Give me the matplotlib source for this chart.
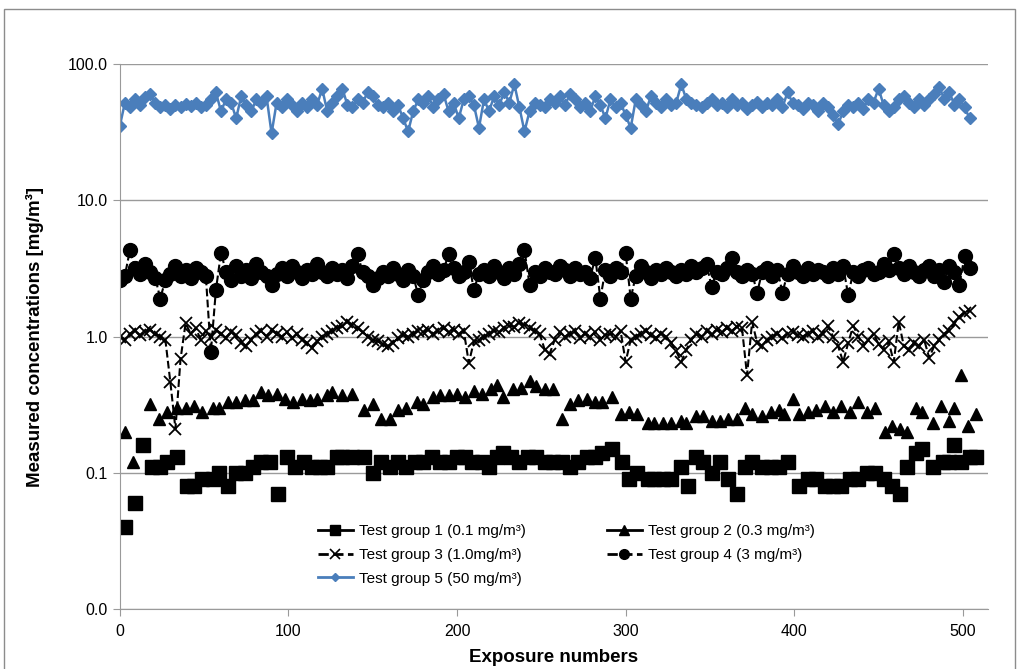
import numpy as np
import matplotlib.pyplot as plt
from matplotlib.lines import Line2D
from matplotlib.patches import Rectangle

plt.rcParams['font.family'] = ['Liberation Sans', 'DejaVu Sans']

# Test group 1 (0.1 mg/m3) - squares
g1_x = [3, 9, 14, 19, 24, 28, 34, 40, 44, 49, 55, 59, 64, 69, 74, 79, 84, 89, 94, 99,
        104, 109, 114, 119, 123, 129, 132, 138, 145, 150, 155, 160, 165, 170, 175, 180,
        185, 190, 195, 200, 205, 209, 215, 219, 224, 227, 232, 237, 242, 247, 252, 257,
        262, 267, 272, 277, 282, 286, 292, 298, 302, 307, 313, 317, 322, 327, 333, 337,
        342, 346, 351, 356, 361, 366, 371, 375, 381, 386, 391, 396, 403, 408, 413, 418,
        423, 428, 433, 438, 443, 448, 453, 458, 463, 467, 472, 476, 482, 488, 492, 495,
        499, 504, 508]
g1_y = [0.04, 0.06, 0.16, 0.11, 0.11, 0.12, 0.13, 0.08, 0.08, 0.09, 0.09, 0.10, 0.08, 0.10,
        0.10, 0.11, 0.12, 0.12, 0.07, 0.13, 0.11, 0.12, 0.11, 0.11, 0.11, 0.13, 0.13, 0.13,
        0.13, 0.10, 0.12, 0.11, 0.12, 0.11, 0.12, 0.12, 0.13, 0.12, 0.12, 0.13, 0.13, 0.12,
        0.12, 0.11, 0.13, 0.14, 0.13, 0.12, 0.13, 0.13, 0.12, 0.12, 0.12, 0.11, 0.12, 0.13,
        0.13, 0.14, 0.15, 0.12, 0.09, 0.10, 0.09, 0.09, 0.09, 0.09, 0.11, 0.08, 0.13, 0.12,
        0.10, 0.12, 0.09, 0.07, 0.11, 0.12, 0.11, 0.11, 0.11, 0.12, 0.08, 0.09, 0.09, 0.08,
        0.08, 0.08, 0.09, 0.09, 0.10, 0.10, 0.09, 0.08, 0.07, 0.11, 0.14, 0.15, 0.11, 0.12,
        0.12, 0.16, 0.12, 0.13, 0.13]

# Test group 2 (0.3 mg/m3) - triangles
g2_x = [3, 8, 18, 23, 28, 34, 39, 44, 49, 55, 59, 64, 69, 74, 79, 84, 88, 93, 98, 103,
        108, 113, 117, 123, 126, 132, 138, 145, 150, 155, 160, 165, 170, 176, 180, 186,
        190, 195, 200, 205, 210, 215, 220, 224, 227, 233, 238, 243, 247, 252, 257, 262,
        267, 272, 277, 282, 286, 292, 297, 302, 307, 313, 317, 322, 327, 333, 336, 342,
        346, 351, 356, 361, 366, 371, 375, 381, 386, 391, 394, 399, 403, 408, 413, 418,
        423, 428, 433, 438, 443, 448, 454, 458, 463, 467, 472, 476, 482, 487, 492, 495,
        499, 503, 508]
g2_y = [0.20, 0.12, 0.32, 0.25, 0.28, 0.30, 0.30, 0.31, 0.28, 0.30, 0.30, 0.33, 0.33, 0.34,
        0.34, 0.39, 0.37, 0.38, 0.35, 0.33, 0.35, 0.34, 0.35, 0.37, 0.39, 0.37, 0.38, 0.29,
        0.32, 0.25, 0.25, 0.29, 0.30, 0.33, 0.32, 0.36, 0.37, 0.37, 0.38, 0.36, 0.40, 0.38,
        0.41, 0.44, 0.36, 0.41, 0.42, 0.47, 0.43, 0.41, 0.41, 0.25, 0.32, 0.34, 0.35, 0.33,
        0.33, 0.36, 0.27, 0.28, 0.27, 0.23, 0.23, 0.23, 0.23, 0.24, 0.23, 0.26, 0.26, 0.24,
        0.24, 0.25, 0.25, 0.30, 0.27, 0.26, 0.28, 0.29, 0.27, 0.35, 0.27, 0.28, 0.29, 0.31,
        0.28, 0.31, 0.28, 0.33, 0.28, 0.30, 0.20, 0.22, 0.21, 0.20, 0.30, 0.28, 0.23, 0.31,
        0.24, 0.30, 0.52, 0.22, 0.27]

# groups 3-5 sampled every third exposure
exposure = np.arange(0, 505, 3)

g3_y = [1.00, 0.95, 1.05, 1.10, 1.02, 1.08, 1.12, 1.05, 1.00, 0.95,
        0.46, 0.21, 0.68, 1.25, 1.05, 1.15, 0.95, 1.10, 1.00, 1.12,
        1.05, 0.98, 1.08, 1.02, 0.90, 0.85, 0.95, 1.05, 1.10, 1.00,
        1.12, 1.05, 1.00, 1.08, 0.98, 1.05, 0.95, 0.90, 0.82, 0.92,
        1.00, 1.05, 1.10, 1.15, 1.20, 1.28, 1.22, 1.15, 1.08, 1.00,
        0.95, 0.92, 0.88, 0.85, 0.90, 0.97, 1.02, 1.00, 1.05, 1.10,
        1.08, 1.12, 1.05, 1.10, 1.15, 1.08, 1.12, 1.05, 1.10, 0.64,
        0.92, 0.95, 1.00, 1.05, 1.10, 1.08, 1.15, 1.20, 1.18, 1.25,
        1.22, 1.15, 1.10, 1.05, 0.80, 0.75, 0.95, 1.08, 1.00, 1.05,
        1.10, 0.98, 1.05, 1.00, 1.08, 0.95, 1.02, 1.05, 1.00, 1.10,
        0.65, 0.95, 1.00, 1.05, 1.10, 1.02, 0.98, 1.05, 1.00, 0.90,
        0.78, 0.65, 0.80, 0.95, 1.05, 1.00, 1.10, 1.05, 1.12, 1.08,
        1.15, 1.10, 1.18, 1.15, 0.52, 1.28, 0.90, 0.85, 0.95, 1.00,
        1.05, 0.98, 1.05, 1.08, 1.02, 1.00, 1.05, 1.10, 1.00, 1.05,
        1.20, 1.00, 0.85, 0.65, 0.90, 1.20, 1.00, 0.85, 0.95, 1.05,
        0.88, 0.80, 0.92, 0.65, 1.28, 0.85, 0.80, 0.90, 0.85, 0.95,
        0.70, 0.85, 0.95, 1.05, 1.10, 1.25, 1.40, 1.50, 1.55]

g4_y = [2.6, 2.8, 4.3, 3.2, 2.9, 3.4, 3.0, 2.7, 1.9, 2.6,
        2.9, 3.3, 2.8, 3.1, 2.7, 3.2, 3.0, 2.8, 0.77, 2.2,
        4.1, 3.0, 2.6, 3.3, 2.8, 3.1, 2.7, 3.4, 3.0, 2.8,
        2.4, 2.9, 3.2, 2.8, 3.3, 3.0, 2.7, 3.1, 2.9, 3.4,
        3.0, 2.8, 3.2, 2.9, 3.1, 2.7, 3.3, 4.0, 3.0, 2.8,
        2.4, 2.7, 3.0, 2.8, 3.2, 2.9, 2.6, 3.1, 2.8, 2.0,
        2.6, 3.0, 3.3, 2.9, 3.1, 4.0, 3.2, 2.8, 3.0, 3.5,
        2.2, 2.9, 3.1, 2.8, 3.3, 3.0, 2.7, 3.2, 2.9, 3.4,
        4.3, 2.4, 3.0, 2.8, 3.2, 3.0, 2.9, 3.3, 3.1, 2.8,
        3.2, 2.9, 3.0, 2.7, 3.8, 1.9, 3.1, 2.8, 3.2, 3.0,
        4.1, 1.9, 2.8, 3.3, 3.0, 2.7, 3.1, 2.9, 3.2, 3.0,
        2.8, 3.1, 2.9, 3.3, 3.0, 3.2, 3.4, 2.3, 3.0, 2.9,
        3.2, 3.8, 3.0, 2.8, 3.1, 2.9, 2.1, 3.0, 3.2, 2.8,
        3.1, 2.1, 2.9, 3.3, 3.0, 2.8, 3.2, 2.9, 3.1, 3.0,
        2.8, 3.2, 2.9, 3.3, 2.0, 3.0, 2.8, 3.1, 3.2, 2.9,
        3.0, 3.4, 3.1, 4.0, 3.2, 2.9, 3.3, 3.0, 2.8, 3.1,
        3.3, 2.8, 3.1, 2.5, 3.3, 3.0, 2.4, 3.9, 3.2]

g5_y = [35, 52, 48, 55, 50, 57, 60, 52, 48, 50,
        47, 50, 48, 51, 49, 52, 48, 50, 55, 62,
        45, 55, 52, 40, 58, 50, 45, 55, 52, 58,
        31, 52, 48, 55, 50, 45, 52, 48, 55, 50,
        66, 45, 52, 58, 66, 50, 48, 55, 52, 62,
        58, 50, 48, 52, 45, 50, 40, 32, 45, 55,
        52, 58, 48, 55, 60, 45, 52, 40, 55, 58,
        50, 34, 55, 45, 58, 50, 62, 52, 71, 48,
        32, 45, 52, 50, 48, 55, 52, 58, 50, 60,
        55, 48, 52, 45, 58, 50, 40, 55, 48, 52,
        42, 34, 55, 50, 45, 58, 52, 48, 55, 50,
        52, 71, 55, 52, 50, 48, 52, 55, 50, 52,
        48, 55, 50, 52, 47, 50, 53, 48, 52, 50,
        55, 48, 62, 52, 50, 47, 52, 50, 45, 52,
        48, 42, 36, 45, 50, 48, 52, 47, 55, 52,
        66, 50, 45, 48, 55, 58, 52, 48, 55, 50,
        55, 60, 68, 55, 62, 50, 55, 48, 40]

labels = ['Test group 1 (0.1 mg/m³)', 'Test group 2 (0.3 mg/m³)',
          'Test group 3 (1.0mg/m³)', 'Test group 4 (3 mg/m³)',
          'Test group 5 (50 mg/m³)']
blue = '#4a7ebb'
grey = '#9a9a9a'

fig = plt.figure(figsize=(10.24, 6.69), dpi=100)
ax = fig.add_axes([0.117, 0.0897, 0.848, 0.8146])

ax.plot(g1_x, g1_y, ls='none', marker='s', ms=9.5, color='black')
ax.plot(g2_x, g2_y, ls='none', marker='^', ms=9, color='black')
ax.plot(exposure, g3_y, ls='--', lw=1.5, marker='x', ms=8, mew=1.3, color='black')
ax.plot(exposure, g4_y, ls='--', lw=1.5, marker='o', ms=10, color='black')
ax.plot(exposure, g5_y, ls='-', lw=1.8, marker='D', ms=6, color=blue)

ax.set_yscale('log')
ax.set_ylim(0.01, 100)
ax.set_yticks([0.01, 0.1, 1, 10, 100])
ax.set_yticklabels(['0.0', '0.1', '1.0', '10.0', '100.0'])
ax.minorticks_off()
ax.set_xlim(0, 515)
ax.set_xticks([0, 100, 200, 300, 400, 500])
ax.grid(axis='y', color=grey, lw=1)
ax.set_axisbelow(True)
for s in ['top', 'right']:
    ax.spines[s].set_visible(False)
for s in ['left', 'bottom']:
    ax.spines[s].set_color(grey)
ax.tick_params(axis='both', colors=grey, labelcolor='black', labelsize=11.5, length=5)
ax.tick_params(axis='x', pad=6)

ax.set_xlabel('Exposure numbers', fontsize=13.5, fontweight='bold', labelpad=7)
ax.set_ylabel('Measured concentrations [mg/m³]', fontsize=13.5, fontweight='bold',
              labelpad=17)

h = [Line2D([], [], color='black', lw=2, marker='s', ms=7),
     Line2D([], [], color='black', lw=2, marker='^', ms=7),
     Line2D([], [], color='black', lw=2, ls='--', marker='x', ms=7, mew=1.2),
     Line2D([], [], color='black', lw=2, ls='--', marker='o', ms=7),
     Line2D([], [], color=blue, lw=2, marker='D', ms=4)]
order = [0, 2, 4, 1, 3]
ax.legend([h[i] for i in order], [labels[i] for i in order], ncol=2, frameon=False,
          loc='upper left', bbox_to_anchor=(0.228, 0.156), borderaxespad=0, borderpad=0,
          fontsize=11, handlelength=2.3, handletextpad=0.4, columnspacing=5.3,
          labelspacing=0.65)

fig.patches.append(Rectangle((0.004, -0.01), 0.987, 0.9965, transform=fig.transFigure,
                             fill=False, ec='#8c8c8c', lw=1))

fig.savefig('out.png', dpi=100)
